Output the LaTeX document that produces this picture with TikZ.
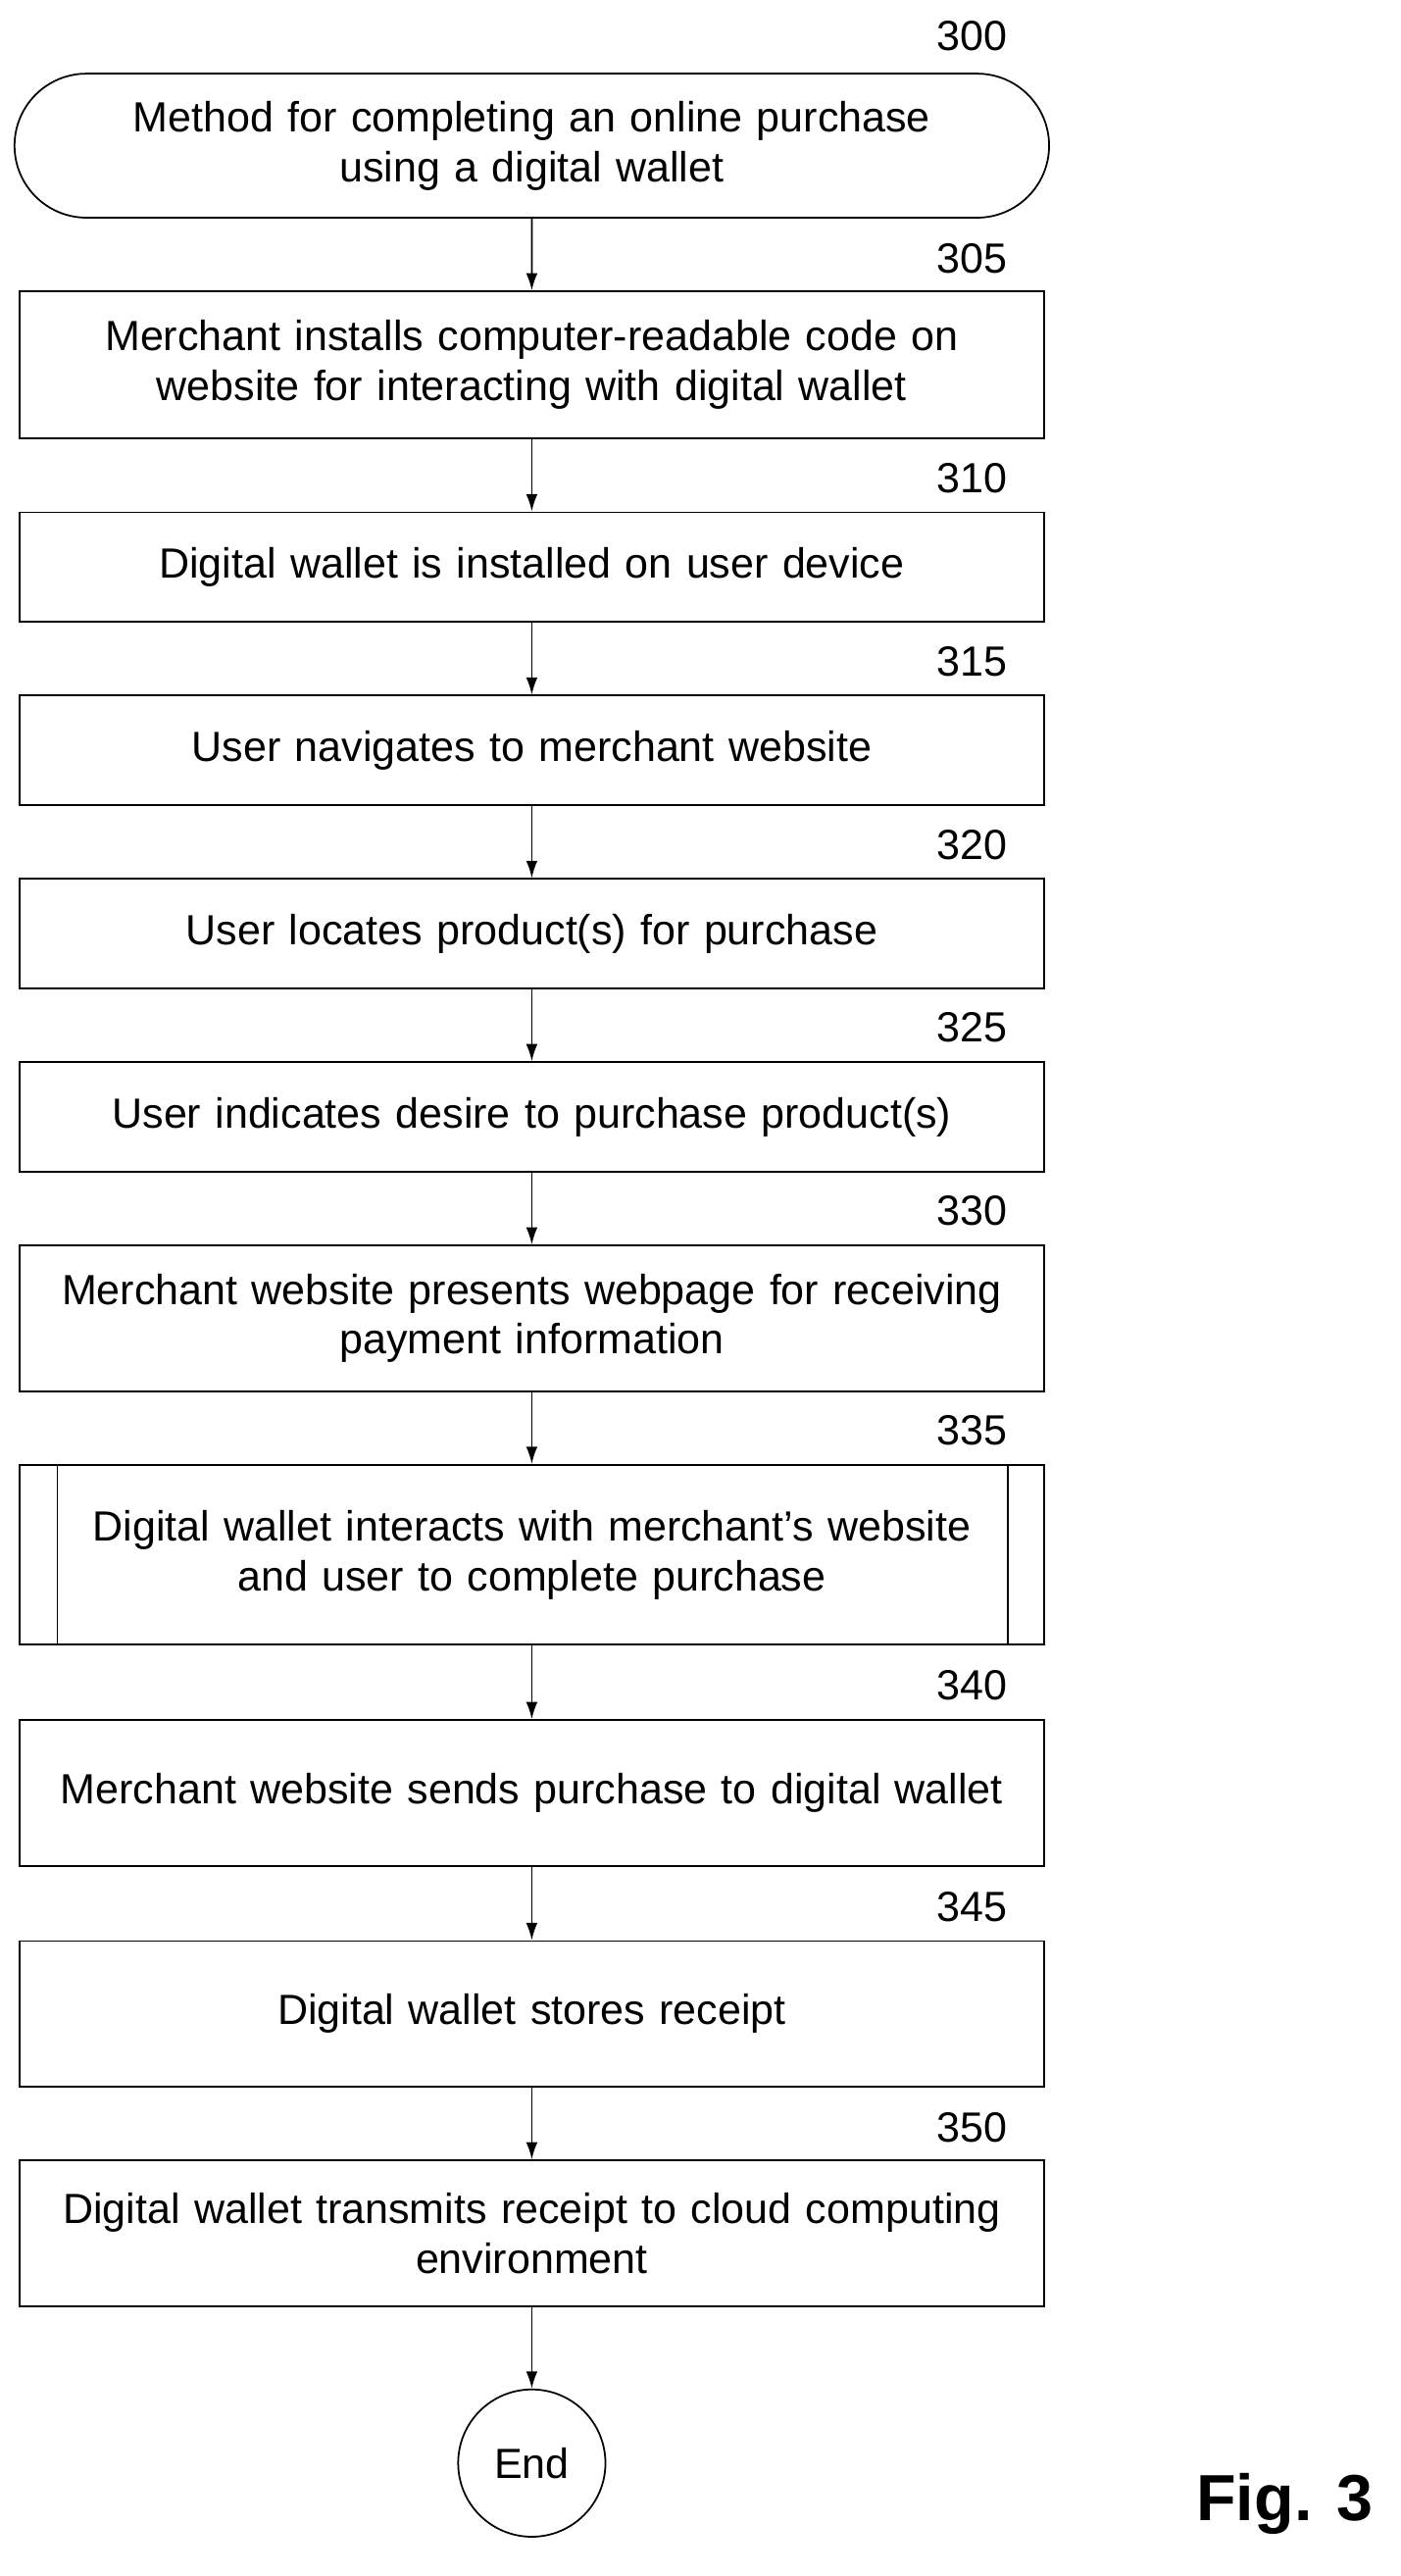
\documentclass[tikz,border=0pt]{standalone}
\usepackage{fontspec}
\setmainfont{Liberation Sans}
\usetikzlibrary{positioning,arrows.meta,shapes.misc}

\tikzset{
    box/.style={draw, line width=0.9pt, minimum width=18.78cm, text width=18.4cm,
        align=center, font=\fontsize{22}{26}\selectfont, inner sep=0pt},
    num/.style={font=\fontsize{22}{26}\selectfont},
    flow/.style={-{Latex[length=9pt,width=6pt]}, line width=0.9pt}
}

\begin{document}
\begin{tikzpicture}[x=0.03cm, y=-0.03cm]
    \useasboundingbox (0,0) rectangle (856,1574);

    % Start terminator
    \node[box, rounded rectangle, minimum height=2.64cm] (s300) at (325,89)
        {Method for completing an online purchase\\using a digital wallet};
    \node[num] at (594,22) {300};

    % Steps
    \node[box, minimum height=2.7cm] (s305) at (325,223)
        {Merchant installs computer-readable code on\\website for interacting with digital wallet};
    \node[num] at (594,158) {305};
    \node[box, minimum height=2.01cm] (s310) at (325,346.5) {Digital wallet is installed on user device};
    \node[num] at (594,292) {310};
    \node[box, minimum height=2.01cm] (s315) at (325,458.5) {User navigates to merchant website};
    \node[num] at (594,404) {315};
    \node[box, minimum height=2.01cm] (s320) at (325,570.5) {User locates product(s) for purchase};
    \node[num] at (594,516) {320};
    \node[box, minimum height=2.01cm] (s325) at (325,682.5) {User indicates desire to purchase product(s)};
    \node[num] at (594,628) {325};
    \node[box, minimum height=2.67cm] (s330) at (325,805.5)
        {Merchant website presents webpage for receiving\\payment information};
    \node[num] at (594,740) {330};

    % Predefined process
    \node[box, minimum height=3.3cm] (s335) at (325,950)
        {Digital wallet interacts with merchant's website\\and user to complete purchase};
    \draw[line width=0.9pt] (35,895) -- (35,1005) (616,895) -- (616,1005);
    \node[num] at (594,874) {335};

    \node[box, minimum height=2.67cm] (s340) at (325,1095.5) {Merchant website sends purchase to digital wallet};
    \node[num] at (594,1030) {340};
    \node[box, minimum height=2.67cm] (s345) at (325,1230.5) {Digital wallet stores receipt};
    \node[num] at (594,1165) {345};
    \node[box, minimum height=2.67cm] (s350) at (325,1364.5)
        {Digital wallet transmits receipt to cloud computing\\environment};
    \node[num] at (594,1300) {350};

    % End
    \node[draw, circle, line width=0.9pt, minimum size=2.7cm, inner sep=0pt,
        font=\fontsize{22}{26}\selectfont] (end) at (325,1505) {End};

    % Connectors
    \foreach \a/\b in {s300/s305, s305/s310, s310/s315, s315/s320, s320/s325,
        s325/s330, s330/s335, s335/s340, s340/s345, s345/s350, s350/end}
        \draw[flow] (\a) -- (\b);

    \node[font=\bfseries\fontsize{34}{40}\selectfont] at (785,1530) {Fig. 3};
\end{tikzpicture}
\end{document}
